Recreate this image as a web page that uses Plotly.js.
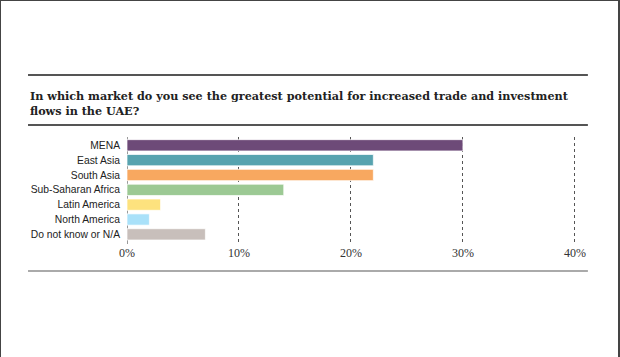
<!DOCTYPE html>
<html>
<head>
<meta charset="utf-8">
<script src="https://cdn.plot.ly/plotly-3.0.1.min.js"></script>
<style>
html,body{margin:0;padding:0;background:#fff;}
#frame{position:absolute;left:0;top:0;width:620px;height:357px;box-sizing:border-box;border-top:1px solid #444;border-left:1px solid #444;border-right:2px solid #444;}
#chart{position:absolute;left:0;top:0;width:620px;height:357px;}
</style>
</head>
<body>
<div id="chart"></div>
<div id="frame"></div>
<script>
const categories = ["MENA","East Asia","South Asia","Sub-Saharan Africa","Latin America","North America","Do not know or N/A"];
const values = [30, 22, 22, 14, 3, 2, 7];
const barColors = ["#6D4A78","#57A3AF","#F8A860","#9CC994","#FDE27E","#A9E1F9","#C8BFBB"];
const tickValues = [0, 10, 20, 30, 40];
const tickLabels = ["0%","10%","20%","30%","40%"];
const titleText = "In which market do you see the greatest potential for increased trade and investment<br>flows in the UAE?";

const L = 127, W = 449.1, T = 137, H = 107;
const px = x => (x - L) / W;
const py = y => (T + H - y) / H;

const trace = {
  type: "bar",
  orientation: "h",
  y: categories,
  x: values,
  marker: {color: barColors, line: {color: "rgba(255,255,255,0.7)", width: 1}},
  width: 0.76,
  hoverinfo: "skip"
};

const rule = (y, color, w) => ({type:"line", xref:"paper", yref:"paper", x0: px(28), x1: px(588), y0: py(y), y1: py(y), line:{color:color, width:w}});

const layout = {
  width: 620, height: 357,
  margin: {l: L, r: 620 - L - W, t: T, b: 357 - T - H},
  paper_bgcolor: "#fff", plot_bgcolor: "#fff",
  showlegend: false,
  title: {
    text: titleText,
    xref: "container", yref: "container",
    x: 30/620, xanchor: "left",
    y: 1 - 100/357, yanchor: "top",
    font: {family: "DejaVu Serif, serif", size: 11.2, color: "#222", weight: "bold"}
  },
  xaxis: {
    range: [0, 40.1],
    tickvals: tickValues, ticktext: tickLabels,
    showgrid: true, gridcolor: "#555", griddash: "3px,3px", gridwidth: 1,
    zeroline: true, zerolinecolor: "#999", zerolinewidth: 1,
    showline: false, ticks: "",
    tickfont: {family: "Liberation Serif, serif", size: 12, color: "#333"},
    ticklabelstandoff: 0,
    fixedrange: true
  },
  yaxis: {
    range: [6.65, -0.56],
    type: "category",
    showgrid: false, zeroline: false, showline: false, ticks: "",
    tickfont: {family: "Liberation Sans, sans-serif", size: 10.3, color: "#222"},
    ticklabelstandoff: 6,
    fixedrange: true
  },
  shapes: [rule(75, "#555", 2), rule(125, "#555", 2), rule(271, "#aaa", 2)]
};

Plotly.newPlot("chart", [trace], layout, {staticPlot: true, displayModeBar: false});
</script>
</body>
</html>
